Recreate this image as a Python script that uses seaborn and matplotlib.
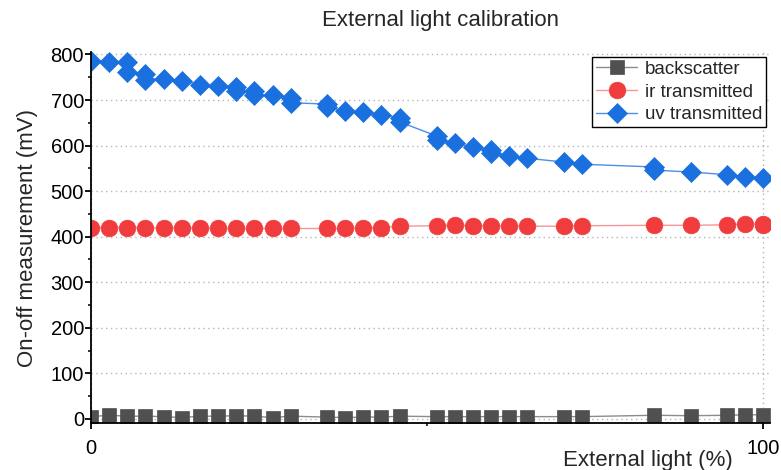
import matplotlib
matplotlib.use("Agg")
import matplotlib.pyplot as plt
import seaborn as sns
import pandas as pd

# ---- data ----
x_back = [0.0, 2.7, 5.4, 8.1, 10.8, 13.5, 16.2, 18.9, 21.6, 24.3, 27.0, 29.7,
          35.1, 37.8, 40.5, 43.2, 45.9, 51.4, 54.1, 56.8, 59.5, 62.2, 64.9,
          70.3, 73.0, 83.8, 89.2, 94.6, 97.3, 100.0]
y_back = [5, 8, 6, 6, 5, 3, 6, 6, 7, 6, 3, 6,
          4, 3, 4, 4, 6, 5, 5, 5, 5, 5, 5,
          5, 5, 8, 7, 8, 9, 9]

x_ir = [0.0, 2.7, 5.4, 8.1, 10.8, 13.5, 16.2, 18.9, 21.6, 24.3, 27.0, 29.7,
        35.1, 37.8, 40.5, 43.2, 45.9, 51.4, 54.1, 56.8, 59.5, 62.2, 64.9,
        70.3, 73.0, 83.8, 89.2, 94.6, 97.3, 100.0, 100.0]
y_ir = [420, 420, 420, 420, 419, 419, 419, 418, 418, 418, 418, 418,
        418, 418, 419, 420, 423, 424, 425, 424, 424, 423, 423,
        423, 424, 425, 425, 426, 428, 428, 425]

x_uv = [0.0, 2.7, 5.4, 5.4, 8.1, 8.1, 10.8, 13.5, 16.2, 18.9, 21.6, 21.6,
        24.3, 24.3, 27.0, 29.7, 29.7, 35.1, 35.1, 37.8, 40.5, 43.2, 45.9, 45.9,
        51.4, 51.4, 54.1, 56.8, 59.5, 59.5, 62.2, 64.9, 70.3, 73.0, 83.8, 83.8,
        89.2, 94.6, 97.3, 100.0]
y_uv = [786, 784, 783, 762, 758, 745, 747, 742, 734, 730, 729, 719,
        719, 710, 710, 705, 694, 691, 684, 676, 673, 668, 661, 652,
        621, 612, 605, 597, 590, 583, 576, 572, 564, 559, 553, 546,
        542, 536, 532, 528]

series_names = ["backscatter", "ir transmitted", "uv transmitted"]
x_ticks = [0, 100]
x_ticklabels = ["0", "100"]
y_ticks = [0, 100, 200, 300, 400, 500, 600, 700, 800]

# ---- styling ----
sns.set_theme(style="ticks")
plt.rcParams["font.family"] = ["Liberation Sans", "DejaVu Sans"]

fig = plt.figure(figsize=(7.81, 4.70), dpi=100)
ax = fig.add_axes([0.1165, 0.099, 0.8695, 0.79])

styles = [
    dict(marker="s", ms=10, c="#505050", lc="#8c8c8c"),
    dict(marker="o", ms=12, c="#f03c3c", lc="#f59595"),
    dict(marker="D", ms=10, c="#1a70de", lc="#4a8fe6"),
]
data = [(x_back, y_back), (x_ir, y_ir), (x_uv, y_uv)]

for (xs, ys), name, st in zip(data, series_names, styles):
    df = pd.DataFrame({"x": xs, "y": ys})
    sns.lineplot(data=df, x="x", y="y", estimator=None, sort=False, ax=ax,
                 color=st["lc"], linewidth=1.0, marker=st["marker"],
                 markersize=st["ms"], markerfacecolor=st["c"],
                 markeredgecolor=st["c"], markeredgewidth=0.5, label=name)

ax.set_xlim(0, 101)
ax.set_ylim(-10, 805)
ax.set_xticks(x_ticks)
ax.set_xticklabels(x_ticklabels)
ax.set_xticks([50], minor=True)
ax.set_yticks(y_ticks)
ax.set_yticks([v + 50 for v in y_ticks[:-1]], minor=True)

ax.tick_params(axis="both", which="major", direction="out", length=4,
               width=1.3, labelsize=14.5, color="black", labelcolor="black")
ax.tick_params(axis="both", which="minor", direction="out", length=2.5,
               width=1.1, color="black")
ax.tick_params(axis="y", which="major", pad=1)
ax.tick_params(axis="x", which="major", pad=7)

ax.grid(True, which="major", linestyle=(0, (1, 2.5)), color="#b5b5b5",
        linewidth=1.0)
ax.set_axisbelow(True)

for s in ["top", "right"]:
    ax.spines[s].set_visible(False)
for s in ["left", "bottom"]:
    ax.spines[s].set_color("black")
    ax.spines[s].set_linewidth(1.3)

ax.set_title("External light calibration", fontsize=16, x=0.514, pad=19)
ax.set_ylabel("On-off measurement (mV)", fontsize=16, labelpad=9)
ax.set_xlabel("External light (%)", fontsize=16)
ax.xaxis.set_label_coords(0.82, -0.072)

leg = ax.legend(loc="upper right", bbox_to_anchor=(0.994, 0.987),
                frameon=True, fancybox=False, framealpha=1,
                edgecolor="black", fontsize=13.5, borderpad=0.2,
                handlelength=2.2, handletextpad=0.4, labelspacing=0.3,
                borderaxespad=0)
leg.get_frame().set_linewidth(1.0)

fig.savefig("out.png", dpi=100)
